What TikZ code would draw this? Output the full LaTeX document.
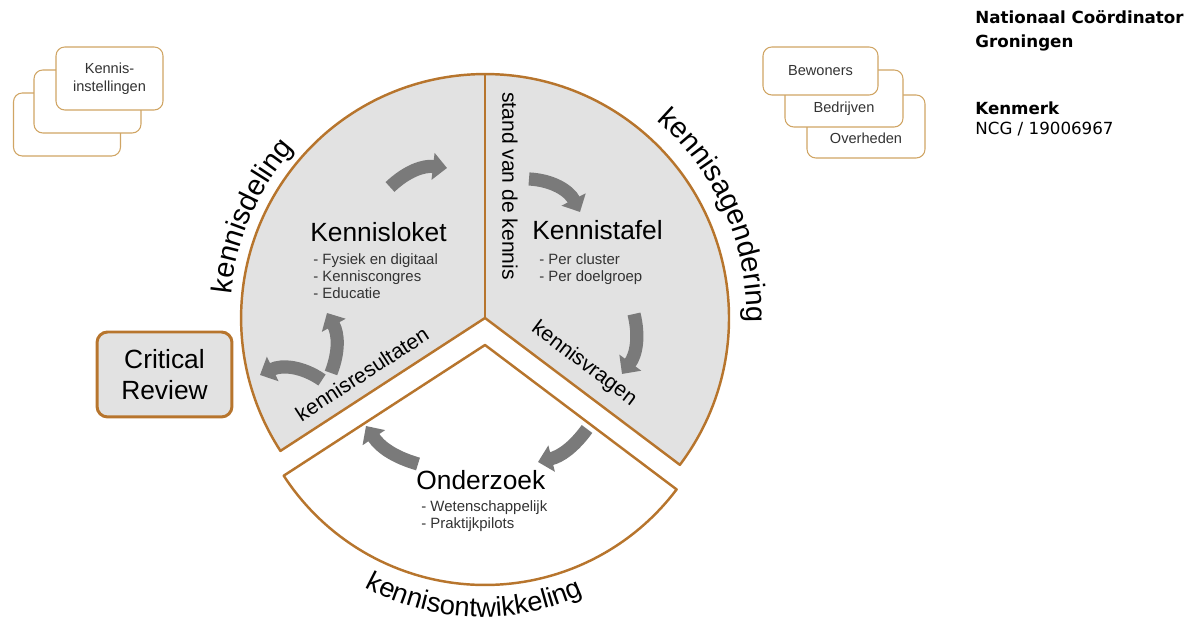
\documentclass[tikz,border=0pt]{standalone}
\usepackage{fontspec}
\setmainfont{Liberation Sans}
\newfontfamily\briefkop{DejaVu Sans}
\usetikzlibrary{arrows.meta,decorations.text}
\definecolor{randbruin}{RGB}{183,117,45}
\definecolor{kaartrand}{RGB}{208,165,100}
\definecolor{vlakgrijs}{RGB}{226,226,226}
\definecolor{pijlgrijs}{RGB}{122,122,122}

\begin{document}
\begin{tikzpicture}[x=0.02cm, y=0.02cm,
  rand/.style={draw=randbruin, line width=1.4pt, line join=round},
  kaart/.style={draw=kaartrand, line width=0.6pt, fill=white, rounded corners=5pt, minimum width=2.14cm, minimum height=1.26cm, inner sep=0pt},
  kaarttekst/.style={font=\fontsize{8.3}{10}\selectfont, text=black!80, align=center},
  kop/.style={font=\fontsize{15}{18}\selectfont, anchor=base west, inner sep=0pt},
  lijst/.style={font=\fontsize{8.5}{9.9}\selectfont, align=left, anchor=north west, inner sep=0pt, text=black!80},
  randtekst/.style={font=\fontsize{12}{14}\selectfont, inner sep=0pt},
  brief/.style={font=\briefkop\fontsize{9.5}{11}\selectfont, anchor=base west, inner sep=0pt},
  pijl/.style={draw=pijlgrijs, line width=7.5pt, -{Triangle[length=8pt,width=15pt]}}]
  \useasboundingbox (0,0) rectangle (1189,617);

  \coordinate (C) at (485,299);
  \coordinate (W) at (485,272);
  \coordinate (O) at (482,243);

  \node[kaart] (inst3) at (67,492.5) {};
  \node[kaart] (inst2) at (87.5,515.5) {};
  \node[kaart, kaarttekst] (inst1) at (109.5,538.5) {Kennis-\\instellingen};

  \node[kaart, minimum width=2.36cm] (overheden) at (866,490.5) {};
  \node[kaart, minimum width=2.36cm, minimum height=1.14cm] (bedrijven) at (844,518.5) {};
  \node[kaart, minimum width=2.3cm, minimum height=0.96cm] (bewoners) at (820.5,546) {};
  \node[kaarttekst] (bewonerstekst) at (bewoners.center) {Bewoners};
  \node[kaarttekst] (bedrijventekst) at ([yshift=-0.21cm]bedrijven.center) {Bedrijven};
  \node[kaarttekst] (overhedentekst) at ([yshift=-0.23cm]overheden.center) {Overheden};

  \node[brief] (ncg) at (975,593) {\bfseries Nationaal Co\"ordinator};
  \node[brief] (groningen) at (975,569) {\bfseries Groningen};
  \node[brief] (kenmerk) at (975,502) {\bfseries Kenmerk};
  \node[brief] (nummer) at (975,482) {NCG / 19006967};

  \draw[rand, fill=vlakgrijs] (C) -- ++(-37:244) arc[start angle=-37, end angle=213, radius=4.88cm] -- cycle;
  \draw[rand] (C) -- ++(90:244);
  \draw[rand, fill=white] (W) -- ++(213:240) arc[start angle=213, end angle=323, radius=4.8cm] -- cycle;

  \path[decorate, decoration={text along path, text align=center, text={|\fontsize{16.5}{19}\selectfont|kennisdeling}}, shift={(C)}] (196:255) arc[start angle=196, end angle=117, radius=5.1cm];
  \path[decorate, decoration={text along path, text align=center, text={|\fontsize{16.5}{19}\selectfont|kennisagendering}}, shift={(C)}] (60:262) arc[start angle=60, end angle=-12, radius=5.24cm];
  \path[decorate, decoration={text along path, text align=center, text={|\fontsize{15.5}{18}\selectfont|kennisontwikkeling}}, shift={(O)}] (205:243) arc[start angle=205, end angle=331, radius=4.86cm];

  \node[kop] (loket) at (310,375) {Kennisloket};
  \node[lijst] (loketlijst) at (313,364) {- Fysiek en digitaal\\- Kenniscongres\\- Educatie};
  \node[kop] (tafel) at (532,377) {Kennistafel};
  \node[lijst] (tafellijst) at (539,364) {- Per cluster\\- Per doelgroep};
  \node[kop] (onderzoek) at (416,127) {Onderzoek};
  \node[lijst] (onderzoeklijst) at (421,117) {- Wetenschappelijk\\- Praktijkpilots};

  \node[randtekst, rotate=-90] (stand) at (510,431) {stand van de kennis};
  \node[randtekst, rotate=33] (resultaten) at (362,243) {kennisresultaten};
  \node[randtekst, rotate=-37] (vragen) at (584,253) {kennisvragen};

  \node[draw=randbruin, line width=1.7pt, fill=vlakgrijs, rounded corners=6pt, minimum width=2.7cm, minimum height=1.7cm, align=center, font=\fontsize{15}{18}\selectfont] (review) at (164.5,242.5) {Critical\\Review};

  \coordinate (p1) at (390,430); \coordinate (q1) at (447,449);
  \coordinate (p2) at (529,438); \coordinate (q2) at (580,405);
  \coordinate (p3) at (634,303); \coordinate (q3) at (622,243);
  \coordinate (p4) at (587,188); \coordinate (q4) at (538,155);
  \coordinate (p5) at (418,153); \coordinate (q5) at (366,191);
  \coordinate (p6) at (331,244); \coordinate (q6) at (327,304);
  \coordinate (p7) at (322,237); \coordinate (q7) at (260,242);
  \draw[pijl] (p1) to[bend left=25] (q1);
  \draw[pijl] (p2) to[bend left=30] (q2);
  \draw[pijl] (p3) to[bend left=25] (q3);
  \draw[pijl] (p4) to[bend left=20] (q4);
  \draw[pijl] (p5) to[bend left=20] (q5);
  \draw[pijl] (p6) to[bend right=25] (q6);
  \draw[pijl] (p7) to[bend right=30] (q7);
\end{tikzpicture}
\end{document}
